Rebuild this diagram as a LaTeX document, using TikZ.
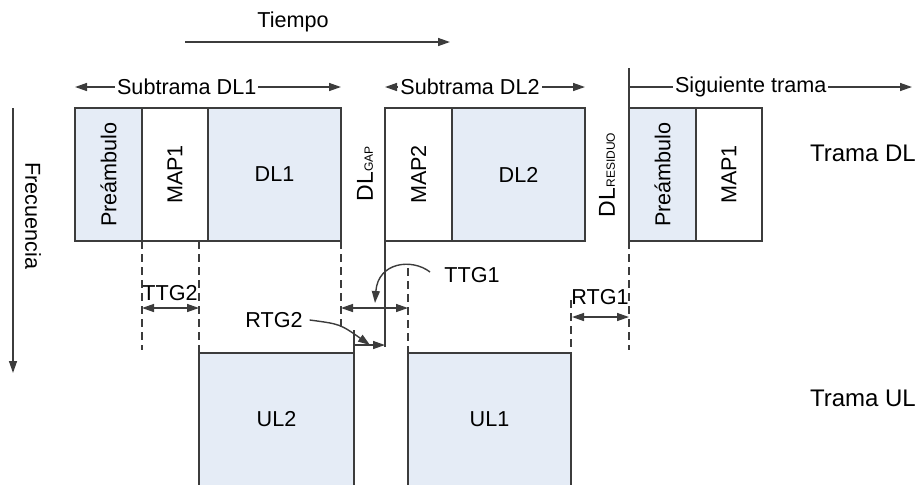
\documentclass[tikz,border=0pt]{standalone}
\usepackage{fontspec}
\setmainfont{Liberation Sans}
\usepackage{xcolor}
\usepackage{tikz}
\usetikzlibrary{
  arrows.meta,
  positioning,
  calc,
}
\definecolor{framegray}{HTML}{3C3C3C}
\definecolor{slotblue}{HTML}{E5ECF6}

\begin{document}
\begin{tikzpicture}[
    x=0.5pt, y=-0.5pt,
    font=\fontsize{10.8}{13}\selectfont,
    slot/.style={draw=framegray, line width=0.7pt, minimum height=66.5pt, inner sep=0pt, outer sep=0pt},
    slotb/.style={slot, fill=slotblue},
    guide/.style={draw=framegray, line width=0.6pt, dash pattern=on 4pt off 2.5pt},
    solidline/.style={draw=framegray, line width=0.7pt},
    dimarrow/.style={solidline, {Triangle[length=6pt,width=4pt]}-{Triangle[length=6pt,width=4pt]}},
    onearrow/.style={solidline, -{Triangle[length=6pt,width=4pt]}},
    lbl/.style={fill=white, inner sep=1pt},
    sub/.style={font=\fontsize{6}{7}\selectfont},
  ]
  \useasboundingbox (0,0) rectangle (917,484);

  % trama DL
  \node[slotb, minimum width=33.5pt] (pre1) at (108.5,174.5) {\rotatebox{90}{Preámbulo}};
  \node[slot, minimum width=33pt, right=0pt of pre1] (map1) {\rotatebox{90}{MAP1}};
  \node[slotb, minimum width=66.5pt, right=0pt of map1] (dl1) {DL1};
  \node[slot, minimum width=33.5pt] (map2) at (418.5,174.5) {\rotatebox{90}{MAP2}};
  \node[slotb, minimum width=66.5pt, right=0pt of map2] (dl2) {DL2};
  \node[slotb, minimum width=33.5pt] (pre2) at (662.5,174.5) {\rotatebox{90}{Preámbulo}};
  \node[slot, minimum width=33pt, right=0pt of pre2] (map3) {\rotatebox{90}{MAP1}};

  % trama UL
  \node[slotb, minimum width=77.5pt] (ul2) at (276.5,419.5) {UL2};
  \node[slotb, minimum width=81.5pt] (ul1) at (489.5,419.5) {UL1};

  % ejes
  \node (tiempo) at (293,22) {Tiempo};
  \coordinate (t0) at (185,42);
  \coordinate (t1) at (450,42);
  \draw[onearrow] (t0) -- (t1);
  \coordinate (f0) at (13,108);
  \coordinate (f1) at (13,373);
  \draw[onearrow] (f0) -- (f1);
  \node[rotate=-90] (frec) at (33,216) {Frecuencia};

  % subtramas
  \draw[dimarrow] ([yshift=10.5pt]pre1.north west) -- node[pos=0.42, lbl] (sub1) {Subtrama DL1} ([yshift=10.5pt]dl1.north east);
  \draw[dimarrow] ([yshift=10.5pt]map2.north west) -- node[pos=0.425, lbl] (sub2) {Subtrama DL2} ([yshift=10.5pt]dl2.north east);
  \coordinate (sg0) at (629,68);
  \coordinate (sg1) at (912,87);
  \draw[solidline] (sg0) -- (pre2.north west);
  \draw[onearrow] ([yshift=10.5pt]pre2.north west) -- node[pos=0.43, lbl] (sig) {Siguiente trama} (sg1);

  \node[rotate=90, font=\fontsize{11.5}{13}\selectfont] (gap) at (365,174) {DL{\fontsize{6}{7}\selectfont GAP}};
  \node[rotate=90, font=\fontsize{11.5}{13}\selectfont] (res) at (607,175) {DL{\fontsize{6}{7}\selectfont RESIDUO}};

  \node[anchor=west, font=\fontsize{12}{14}\selectfont] (tdl) at (803,153) {Trama DL};
  \node[anchor=west, font=\fontsize{12}{14}\selectfont] (tul) at (803,398) {Trama UL};

  % guias
  \coordinate (g1) at (142,350);
  \coordinate (g3) at (341,330);
  \coordinate (g4) at (408,268);
  \coordinate (g5) at (571,300);
  \coordinate (g6) at (629,350);
  \draw[guide] (map1.south west) -- (g1);
  \draw[guide] (ul2.north west |- map1.south) -- (ul2.north west);
  \draw[guide] (dl1.south east) -- (g3);
  \draw[guide] (g4) -- (ul1.north west);
  \draw[guide] (g5) -- (ul1.north east);
  \draw[guide] (pre2.south west) -- (g6);
  \coordinate (s1) at (385,347);
  \coordinate (s2) at (354,330);
  \draw[solidline] (map2.south west) -- (s1);
  \draw[solidline] (ul2.north east) -- (s2);

  % tiempos de guarda
  \coordinate (ttg2a) at (142,308);
  \coordinate (ttg2b) at (199,308);
  \draw[dimarrow] (ttg2a) -- (ttg2b);
  \node (ttg2) at (170,293) {TTG2};

  \coordinate (ttg1a) at (341,308);
  \coordinate (ttg1b) at (408,308);
  \draw[dimarrow] (ttg1a) -- (ttg1b);
  \node (ttg1) at (472,275) {TTG1};
  \coordinate (c0) at (430,272);
  \coordinate (c1) at (375,303);
  \draw[onearrow] (c0) .. controls (412,258) and (378,262) .. (c1);

  \node (rtg2) at (274,320) {RTG2};
  \coordinate (r2a) at (370,345);
  \draw[onearrow] (rtg2.east) .. controls (340,324) .. (r2a);
  \coordinate (r2b) at (355,345);
  \coordinate (r2c) at (385,345);
  \draw[onearrow] (r2b) -- (r2c);

  \node (rtg1) at (600,297) {RTG1};
  \coordinate (rtg1a) at (572,317);
  \coordinate (rtg1b) at (629,317);
  \draw[dimarrow] (rtg1a) -- (rtg1b);
\end{tikzpicture}
\end{document}
